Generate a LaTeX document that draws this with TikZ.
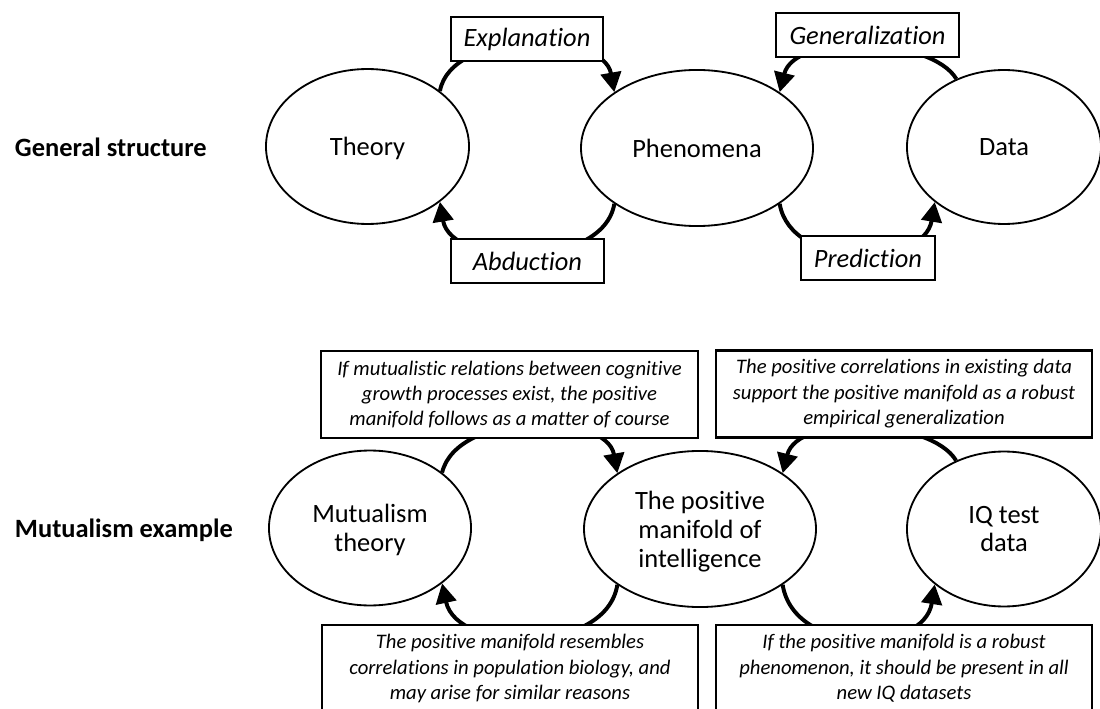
\documentclass[tikz,border=0pt]{standalone}
\usepackage{fontspec}
\setmainfont{Carlito}[Ligatures=NoCommon]
\usetikzlibrary{arrows.meta,shapes.geometric}

\begin{document}
\begin{tikzpicture}[
  x=0.025cm,y=0.025cm,>={Triangle[length=14pt,width=14.5pt]},
  flow/.style={->,line width=2.8pt},
  blob/.style={ellipse,draw,line width=1.3pt,inner sep=0pt,align=center,text depth=0pt,
    font=\fontsize{18.8}{20.5}\selectfont},
  tag/.style={draw,fill=white,line width=1.5pt,inner sep=0pt,minimum height=31.3pt,
    font=\fontsize{18.8}{23}\selectfont\itshape},
  note/.style={draw,fill=white,line width=1.5pt,inner sep=0pt,align=center,
    minimum width=268pt,minimum height=61.9pt,
    font=\fontsize{14.7}{18.1}\selectfont\itshape},
  rowlbl/.style={anchor=base west,font=\fontsize{18.8}{23}\selectfont\bfseries}]
\useasboundingbox (0,0) rectangle (1100,-709);
\clip (0,0) rectangle (1100,-709);
% general structure
\node[rowlbl] (genlbl) at (10,-157) {General structure};
\node[blob,minimum width=144.4pt,minimum height=110.2pt] (theory) at (367.5,-146.5) {Theory};
\node[blob,minimum width=165pt,minimum height=111pt] (phen) at (697,-148) {Phenomena};
\node[blob,minimum width=138pt,minimum height=109.5pt] (data) at (1004,-147) {Data};
\draw[flow] (theory.north east) .. controls +(11,62) and +(-11,62) .. (phen.north west);
\draw[flow] (data.125) .. controls +(-25,42) and +(15,60) .. (phen.north east);
\draw[flow] (phen.south west) .. controls +(-11,-66) and +(11,-66) .. (theory.south east);
\draw[flow] (phen.south east) .. controls +(11,-66) and +(-11,-66) .. (data.south west);
\node[tag,minimum width=108pt] (expl) at (527,-39) {Explanation};
\node[tag,minimum width=130pt] (gen) at (867.5,-35) {Generalization};
\node[tag,minimum width=109pt] (abd) at (527.5,-261) {Abduction};
\node[tag,minimum width=95.3pt] (pred) at (868,-258) {Prediction};
% mutualism example
\node[rowlbl] (mutlbl) at (10,-537) {Mutualism example};
\node[blob,minimum width=143.7pt,minimum height=110.2pt] (mut) at (370,-528) {Mutualism\\theory};
\node[blob,minimum width=165pt,minimum height=111pt] (posman) at (700,-529) {The positive\\manifold of\\intelligence};
\node[blob,minimum width=138pt,minimum height=110.2pt] (iqdata) at (1004,-529) {IQ test\\data};
\draw[flow] (mut.north east) .. controls +(15,62) and +(-11,62) .. (posman.north west);
\draw[flow] (iqdata.125) .. controls +(-25,42) and +(15,60) .. (posman.north east);
\draw[flow] (posman.south west) .. controls +(-11,-70) and +(15,-70) .. (mut.south east);
\draw[flow] (posman.south east) .. controls +(11,-70) and +(-11,-70) .. (iqdata.south west);
\node[note] (mutexpl) at (509.5,-394.5) {If mutualistic relations between cognitive\\growth processes exist, the positive\\manifold follows as a matter of course};
\node[note] (mutgen) at (904,-394) {The positive correlations in existing data\\support the positive manifold as a robust\\empirical generalization};
\node[note] (mutabd) at (510,-668.5) {The positive manifold resembles\\correlations in population biology, and\\may arise for similar reasons};
\node[note] (mutpred) at (904,-668.5) {If the positive manifold is a robust\\phenomenon, it should be present in all\\new IQ datasets};
\end{tikzpicture}
\end{document}
